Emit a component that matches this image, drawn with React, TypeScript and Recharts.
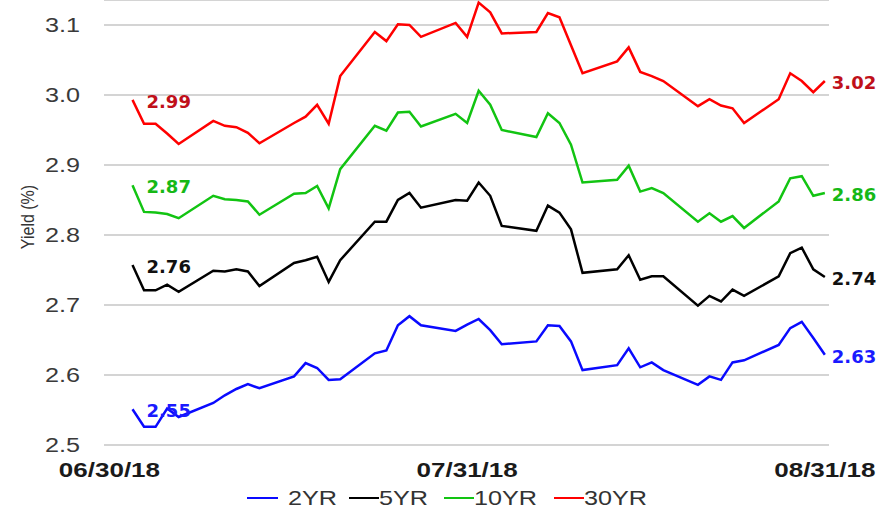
import React from "react"
import { LineChart, Line, XAxis, YAxis, CartesianGrid, Legend, LabelList, Label } from "recharts"

// trading days (mm/dd, 2018)
const dates = [
    "07/02", "07/03", "07/04", "07/05", "07/06",
    "07/09", "07/10", "07/11", "07/12", "07/13",
    "07/16", "07/17", "07/18", "07/19", "07/20",
    "07/23", "07/24", "07/25", "07/26", "07/27",
    "07/30", "07/31", "08/01", "08/02", "08/03",
    "08/06", "08/07", "08/08", "08/09", "08/10",
    "08/13", "08/14", "08/15", "08/16", "08/17",
    "08/20", "08/21", "08/22", "08/23", "08/24",
    "08/27", "08/28", "08/29", "08/30", "08/31",
]

const twoYr = [
    2.551, 2.526, 2.526, 2.552, 2.540,
    2.560, 2.571, 2.580, 2.587, 2.581,
    2.598, 2.617, 2.610, 2.593, 2.594,
    2.631, 2.635, 2.671, 2.684, 2.671,
    2.663, 2.672, 2.680, 2.664, 2.644,
    2.648, 2.671, 2.670, 2.648, 2.607,
    2.614, 2.638, 2.611, 2.618, 2.607,
    2.586, 2.598, 2.593, 2.618, 2.621,
    2.643, 2.667, 2.676, 2.653, 2.629,
]

const fiveYr = [
    2.757, 2.721, 2.721, 2.729, 2.719,
    2.749, 2.748, 2.751, 2.748, 2.727,
    2.760, 2.764, 2.769, 2.733, 2.764,
    2.819, 2.819, 2.850, 2.860, 2.839,
    2.850, 2.849, 2.875, 2.856, 2.813,
    2.806, 2.842, 2.832, 2.808, 2.746,
    2.751, 2.771, 2.736, 2.741, 2.741,
    2.699, 2.713, 2.705, 2.722, 2.713,
    2.741, 2.774, 2.782, 2.751, 2.740,
]

const tenYr = [
    2.871, 2.833, 2.832, 2.830, 2.824,
    2.856, 2.851, 2.850, 2.848, 2.829,
    2.859, 2.860, 2.870, 2.838, 2.894,
    2.956, 2.949, 2.975, 2.976, 2.955,
    2.973, 2.960, 3.006, 2.986, 2.950,
    2.940, 2.974, 2.960, 2.929, 2.875,
    2.879, 2.899, 2.862, 2.867, 2.860,
    2.819, 2.831, 2.819, 2.827, 2.810,
    2.848, 2.881, 2.884, 2.856, 2.860,
]

const thirtyYr = [
    2.993, 2.959, 2.959, 2.945, 2.930,
    2.963, 2.956, 2.954, 2.946, 2.931,
    2.960, 2.969, 2.986, 2.959, 3.027,
    3.090, 3.077, 3.101, 3.100, 3.083,
    3.103, 3.083, 3.132, 3.118, 3.088,
    3.090, 3.117, 3.111, 3.071, 3.031,
    3.048, 3.068, 3.033, 3.027, 3.020,
    2.984, 2.994, 2.985, 2.981, 2.960,
    2.994, 3.031, 3.020, 3.004, 3.020,
]

const xTickLabels = ["06/30/18", "07/31/18", "08/31/18"]
const yTicks = [2.5, 2.6, 2.7, 2.8, 2.9, 3.0, 3.1]

const START = Date.UTC(2018, 5, 30)
const dayOf = (s: string) =>
    (Date.UTC(2018, Number(s.slice(0, 2)) - 1, Number(s.slice(3, 5))) - START) / 86400000

const data = dates.map((d, i) => ({
    day: dayOf(d),
    y2: twoYr[i],
    y5: fiveYr[i],
    y10: tenYr[i],
    y30: thirtyYr[i],
}))

const xTicks = xTickLabels.map(dayOf)

const series = [
    { key: "y2", name: "2YR", color: "#0a0aff", labelColor: "#1a1aff" },
    { key: "y5", name: "5YR", color: "#000000", labelColor: "#111111" },
    { key: "y10", name: "10YR", color: "#12c412", labelColor: "#16b816" },
    { key: "y30", name: "30YR", color: "#ff0000", labelColor: "#c0101a" },
]

const legendTextW = [49, 52, 67, 67]

const SANS = "'Liberation Sans', Arial, sans-serif"

function YTick(props: any) {
    const { x, y, payload } = props
    return (
        <text
            transform={`translate(${x},${y}) scale(1.2,1)`}
            textAnchor="end"
            dominantBaseline="central"
            fontSize={21}
            fontFamily={SANS}
            fill="#3a3a3a"
        >
            {Number(payload.value).toFixed(1)}
        </text>
    )
}

function XTick(props: any) {
    const { x, y, payload } = props
    const idx = xTicks.indexOf(payload.value)
    return (
        <text
            transform={`translate(${x},${y}) scale(1.24,1)`}
            textAnchor="middle"
            dominantBaseline="central"
            fontSize={21}
            fontWeight="bold"
            fontFamily={SANS}
            fill="#1a1a1a"
        >
            {idx >= 0 ? xTickLabels[idx] : ""}
        </text>
    )
}

const endLabel = (color: string, last: number) => (props: any) => {
    const { x, y, index, value } = props
    if (index !== 0 && index !== last) return null
    const dx = index === 0 ? 14 : 7
    return (
        <text
            x={x + dx}
            y={y + 1.5}
            fill={color}
            fontSize={18}
            fontWeight="bold"
            fontFamily="'DejaVu Sans', Verdana, sans-serif"
            dominantBaseline="central"
        >
            {Number(value).toFixed(2)}
        </text>
    )
}

function renderLegend() {
    return (
        <div
            style={{
                width: 893,
                height: 32,
                display: "flex",
                justifyContent: "center",
                alignItems: "center",
                paddingLeft: 4,
                paddingTop: 4,
                boxSizing: "border-box",
                fontFamily: SANS,
                fontSize: 21,
                color: "#333",
            }}
        >
            {series.map((s, i) => (
                <React.Fragment key={s.key}>
                    <span
                        style={{
                            display: "inline-block",
                            width: i === 0 ? 31 : 30,
                            height: 0,
                            borderTop: `2.5px solid ${s.color}`,
                            marginLeft: i === 0 ? 0 : i === 1 ? 12 : 13,
                            marginRight: i === 0 ? 10 : 0,
                        }}
                    />
                    <span style={{ display: "inline-block", width: legendTextW[i], whiteSpace: "nowrap" }}>
                        <span style={{ display: "inline-block", transform: "scaleX(1.2)", transformOrigin: "left center" }}>
                            {s.name}
                        </span>
                    </span>
                </React.Fragment>
            ))}
        </div>
    )
}

export default function App() {
    return (
        <div style={{ position: "absolute", left: 0, top: 0, width: 893, height: 512, background: "#fff" }}>
            <LineChart
                width={893}
                height={512}
                data={data}
                margin={{ top: 0, right: 64, left: 0, bottom: 0 }}
            >
                <CartesianGrid vertical={false} stroke="#c6c6c6" strokeWidth={1.5} />
                <XAxis
                    dataKey="day"
                    type="number"
                    domain={[-0.47, 62.36]}
                    ticks={xTicks}
                    tick={<XTick />}
                    axisLine={false}
                    tickLine={false}
                    tickMargin={19}
                    height={35}
                    interval={0}
                />
                <YAxis
                    type="number"
                    domain={[2.5, 3.1357]}
                    ticks={yTicks}
                    tick={<YTick />}
                    axisLine={false}
                    tickLine={false}
                    tickMargin={18}
                    width={104}
                    allowDataOverflow
                >
                    <Label
                        content={() => (
                            <text
                                transform="translate(28,217) rotate(-90) scale(1,1.15)"
                                textAnchor="middle"
                                dominantBaseline="central"
                                fontSize={16}
                                fontFamily={SANS}
                                fill="#333"
                            >
                                Yield (%)
                            </text>
                        )}
                    />
                </YAxis>
                <Legend verticalAlign="bottom" height={32} content={renderLegend} wrapperStyle={{ left: 0, width: 893 }} />
                {series.map((s) => (
                    <Line
                        key={s.key}
                        type="linear"
                        dataKey={s.key}
                        name={s.name}
                        stroke={s.color}
                        strokeWidth={2.5}
                        dot={false}
                        isAnimationActive={false}
                    >
                        <LabelList dataKey={s.key} content={endLabel(s.labelColor, data.length - 1)} />
                    </Line>
                ))}
            </LineChart>
        </div>
    )
}
